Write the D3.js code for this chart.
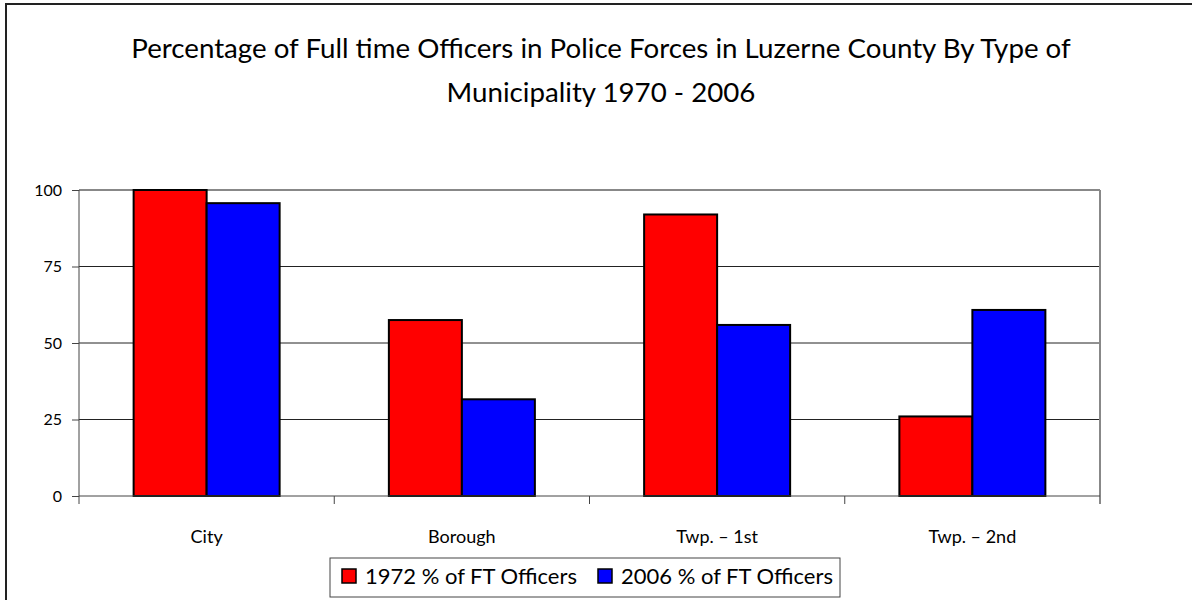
<!DOCTYPE html>
<html>
<head>
<meta charset="utf-8">
<script src="https://cdn.jsdelivr.net/npm/d3@7"></script>
<style>
  body { margin: 0; background: #fff; }
  svg { display: block; font-family: Lato, "Open Sans", sans-serif; }
</style>
</head>
<body>
<div id="chart"></div>
<script>
// Data
const categories = ["City", "Borough", "Twp. \u2013 1st", "Twp. \u2013 2nd"];
const seriesNames = ["1972 % of FT Officers", "2006 % of FT Officers"];
const values1972 = [100, 57.5, 92, 26];
const values2006 = [95.7, 31.6, 55.9, 60.8];
const yTicks = [0, 25, 50, 75, 100];
const titleLines = [
  "Percentage of Full time Officers in Police Forces in Luzerne County By Type of",
  "Municipality 1970 - 2006",
];

const width = 1192;
const height = 600;
const marginLeft = 79;
const marginRight = 92;
const marginTop = 190;
const marginBottom = 104;
const colors = ["#ff0000", "#0000ff"];

const svg = d3
  .select("#chart")
  .append("svg")
  .attr("width", width)
  .attr("height", height)
  .attr("viewBox", [0, 0, width, height]);

// Outer chart frame (left and top edges visible)
svg
  .append("rect")
  .attr("x", 6)
  .attr("y", 4)
  .attr("width", width + 20)
  .attr("height", height + 20)
  .attr("fill", "none")
  .attr("stroke", "#222")
  .attr("stroke-width", 2);

// Title
const title = svg
  .append("g")
  .selectAll("text")
  .data(titleLines)
  .join("text")
  .attr("x", 601)
  .attr("y", (d, i) => 58 + i * 44)
  .attr("text-anchor", "middle")
  .attr("font-size", 26)
  .attr("fill", "#000")
  .text((d) => d);

// fit first title line to the width seen in the picture (~940px)
const w0 = title.node().getComputedTextLength();
const titleSize = Math.max(22, Math.min(30, (26 * 940) / w0));
title.attr("font-size", titleSize);

// Scales
const x = d3
  .scaleBand()
  .domain(categories)
  .range([marginLeft, width - marginRight])
  .paddingInner(0)
  .paddingOuter(0);

const xInner = d3
  .scaleBand()
  .domain(seriesNames)
  .range([0, x.bandwidth() * 0.572]);

const y = d3
  .scaleLinear()
  .domain([0, 100])
  .range([height - marginBottom, marginTop]);

// Gridlines
svg
  .append("g")
  .selectAll("line")
  .data(yTicks.filter((d) => d > 0))
  .join("line")
  .attr("x1", marginLeft)
  .attr("x2", width - marginRight)
  .attr("y1", (d) => y(d))
  .attr("y2", (d) => y(d))
  .attr("stroke", "#222")
  .attr("stroke-width", 1);

// Plot area right and top edges
svg
  .append("line")
  .attr("x1", width - marginRight)
  .attr("x2", width - marginRight)
  .attr("y1", marginTop)
  .attr("y2", height - marginBottom + 8)
  .attr("stroke", "#888")
  .attr("stroke-width", 2);

svg
  .append("line")
  .attr("x1", marginLeft)
  .attr("x2", width - marginRight)
  .attr("y1", marginTop)
  .attr("y2", marginTop)
  .attr("stroke", "#888")
  .attr("stroke-width", 2);

// Bars
const table = categories.map((c, i) => ({
  category: c,
  values: [values1972[i], values2006[i]],
}));

const groups = svg
  .append("g")
  .selectAll("g")
  .data(table)
  .join("g")
  .attr(
    "transform",
    (d) =>
      `translate(${x(d.category) + (x.bandwidth() - xInner.range()[1]) / 2},0)`,
  );

groups
  .selectAll("rect")
  .data((d) => d.values.map((v, i) => ({ key: seriesNames[i], value: v, i })))
  .join("rect")
  .attr("x", (d) => xInner(d.key))
  .attr("y", (d) => y(d.value))
  .attr("width", xInner.bandwidth())
  .attr("height", (d) => y(0) - y(d.value))
  .attr("fill", (d) => colors[d.i])
  .attr("stroke", "#000")
  .attr("stroke-width", 2);

// Y axis
svg
  .append("g")
  .attr("transform", `translate(${marginLeft},0)`)
  .call(d3.axisLeft(y).tickValues(yTicks).tickSize(7).tickPadding(10))
  .call((g) => g.select(".domain").remove())
  .call((g) => g.selectAll(".tick line").attr("stroke", "#444"))
  .call((g) =>
    g
      .selectAll(".tick text")
      .attr("font-size", 16)
      .attr("font-family", "Lato, sans-serif")
      .attr("fill", "#000"),
  );

svg
  .append("line")
  .attr("x1", marginLeft)
  .attr("x2", marginLeft)
  .attr("y1", marginTop)
  .attr("y2", height - marginBottom + 8)
  .attr("stroke", "#444")
  .attr("stroke-width", 1);

// X axis
svg
  .append("line")
  .attr("x1", marginLeft)
  .attr("x2", width - marginRight)
  .attr("y1", y(0))
  .attr("y2", y(0))
  .attr("stroke", "#444")
  .attr("stroke-width", 1);

svg
  .append("g")
  .selectAll("line")
  .data(categories.slice(1))
  .join("line")
  .attr("x1", (d) => x(d))
  .attr("x2", (d) => x(d))
  .attr("y1", y(0))
  .attr("y2", y(0) + 8)
  .attr("stroke", "#444");

svg
  .append("g")
  .selectAll("text")
  .data(categories)
  .join("text")
  .attr("x", (d) => x(d) + x.bandwidth() / 2)
  .attr("y", y(0) + 47)
  .attr("text-anchor", "middle")
  .attr("font-size", 18)
  .attr("fill", "#000")
  .text((d) => d);

// Legend
const legend = svg.append("g");

legend
  .append("rect")
  .attr("x", 330)
  .attr("y", 558)
  .attr("width", 510)
  .attr("height", 39)
  .attr("fill", "#fff")
  .attr("stroke", "#444")
  .attr("stroke-width", 1);

const legendX = [342, 598];
const items = legend
  .selectAll("g")
  .data(seriesNames)
  .join("g")
  .attr("transform", (d, i) => `translate(${legendX[i]},569)`);

items
  .append("rect")
  .attr("width", 14)
  .attr("height", 14)
  .attr("fill", (d, i) => colors[i])
  .attr("stroke", "#000")
  .attr("stroke-width", 1.5);

items
  .append("text")
  .attr("x", 23)
  .attr("y", 15)
  .attr("font-size", 22)
  .attr("fill", "#000")
  .text((d) => d);
</script>
</body>
</html>
